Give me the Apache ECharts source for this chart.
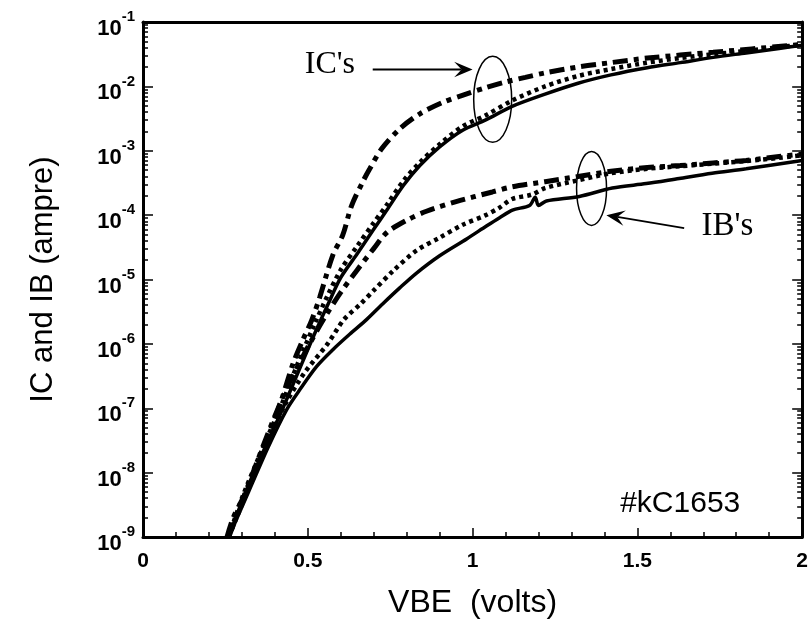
<!DOCTYPE html>
<html>
<head>
<meta charset="utf-8">
<title>IC and IB vs VBE</title>
<script src="https://cdn.jsdelivr.net/npm/echarts@6/dist/echarts.min.js"></script>
<style>
  html, body { margin: 0; padding: 0; background: #fff; }
  #chart { width: 811px; height: 624px; }
</style>
</head>
<body>
<div id="chart"></div>
<script>
// collector current curves  [VBE (V), IC (A)]
const icSolid = [[0.26,1e-9],[0.30,3.55e-9],[0.34,1.12e-8],[0.38,3.16e-8],[0.42,8.9e-8],[0.47,3.55e-7],[0.52,1.41e-6],[0.56,3.98e-6],[0.60,1.07e-5],[0.65,2.51e-5],[0.70,6.03e-5],[0.74,1.2e-4],[0.79,2.88e-4],[0.84,5.89e-4],[0.90,1.15e-3],[0.97,2.09e-3],[1.04,3.02e-3],[1.12,4.9e-3],[1.22,7.59e-3],[1.32,1.12e-2],[1.42,1.51e-2],[1.53,1.95e-2],[1.63,2.34e-2],[1.73,2.82e-2],[1.83,3.31e-2],[1.93,3.89e-2],[2.0,4.37e-2]];
const icDotted = [[0.26,1e-9],[0.30,3.98e-9],[0.34,1.26e-8],[0.38,3.8e-8],[0.42,1.12e-7],[0.47,5.01e-7],[0.52,2.0e-6],[0.56,5.62e-6],[0.60,1.41e-5],[0.65,3.31e-5],[0.70,7.59e-5],[0.74,1.45e-4],[0.79,3.39e-4],[0.84,6.61e-4],[0.90,1.26e-3],[0.97,2.4e-3],[1.04,3.55e-3],[1.12,6.03e-3],[1.22,1.0e-2],[1.32,1.45e-2],[1.42,1.86e-2],[1.53,2.34e-2],[1.63,2.75e-2],[1.73,3.16e-2],[1.83,3.55e-2],[1.93,4.07e-2],[2.0,4.47e-2]];
const icDashDot = [[0.255,1e-9],[0.273,1.95e-9],[0.303,3.98e-9],[0.333,8.13e-9],[0.364,2.34e-8],[0.391,5.25e-8],[0.421,1.38e-7],[0.455,4.9e-7],[0.485,1.15e-6],[0.512,2.34e-6],[0.536,5.25e-6],[0.576,2.4e-5],[0.606,4.9e-5],[0.633,1.41e-4],[0.667,3.31e-4],[0.688,5.25e-4],[0.724,1.07e-3],[0.779,2.19e-3],[0.839,3.72e-3],[0.909,5.62e-3],[0.98,7.59e-3],[1.04,9.55e-3],[1.10,1.17e-2],[1.16,1.38e-2],[1.22,1.62e-2],[1.32,2.0e-2],[1.42,2.34e-2],[1.53,2.75e-2],[1.73,3.39e-2],[2.0,4.47e-2]];

// base current curves  [VBE (V), IB (A)]
const ibSolid = [[0.26,1e-9],[0.32,5.01e-9],[0.38,2.51e-8],[0.436,9.55e-8],[0.476,1.95e-7],[0.527,4.47e-7],[0.576,8.13e-7],[0.627,1.41e-6],[0.679,2.4e-6],[0.727,4.17e-6],[0.779,7.41e-6],[0.83,1.26e-5],[0.90,2.34e-5],[0.982,4.27e-5],[1.042,6.76e-5],[1.082,9.12e-5],[1.121,1.2e-4],[1.173,1.41e-4],[1.19,1.9e-4],[1.20,1.41e-4],[1.224,1.66e-4],[1.324,1.95e-4],[1.424,2.63e-4],[1.527,3.09e-4],[1.627,3.72e-4],[1.727,4.47e-4],[1.83,5.25e-4],[2.0,7.08e-4]];
const ibDotted = [[0.26,1e-9],[0.32,5.62e-9],[0.38,3.16e-8],[0.43,1.12e-7],[0.49,3.55e-7],[0.56,1e-6],[0.61,2.4e-6],[0.66,4.17e-6],[0.70,6.76e-6],[0.76,1.38e-5],[0.83,2.82e-5],[0.90,4.47e-5],[0.97,7.08e-5],[1.04,1.0e-4],[1.08,1.29e-4],[1.12,1.78e-4],[1.18,2.09e-4],[1.22,2.63e-4],[1.32,3.47e-4],[1.42,4.47e-4],[1.53,5.25e-4],[1.63,5.75e-4],[1.73,6.31e-4],[1.83,6.92e-4],[1.93,7.76e-4],[2.0,8.51e-4]];
const ibDashDot = [[0.26,1e-9],[0.33,8.9e-9],[0.39,5.62e-8],[0.44,2.24e-7],[0.50,8.9e-7],[0.55,2.51e-6],[0.60,6.31e-6],[0.65,1.41e-5],[0.70,3.02e-5],[0.74,5.37e-5],[0.80,8.32e-5],[0.86,1.15e-4],[0.95,1.62e-4],[1.06,2.29e-4],[1.12,2.75e-4],[1.22,3.31e-4],[1.32,3.98e-4],[1.42,4.79e-4],[1.53,5.5e-4],[1.63,5.89e-4],[1.73,6.46e-4],[1.83,7.08e-4],[1.93,8.13e-4],[2.0,8.9e-4]];

// annotation anchors in data space
const icLabelAt = [0.567, 0.0219];
const icArrow = [[0.697, 0.0183], [1.0, 0.0183]];
const icEllipseAt = [1.061, 6.3e-3];
const ibEllipseAt = [1.361, 2.6e-4];
const ibArrow = [[1.642, 6.3e-5], [1.406, 1.0e-4]];
const ibLabelAt = [1.773, 6.8e-5];
const sampleLabelAt = [1.63, 3.3e-9];

// minor tick values for the log axes (2..9 of every decade)
const minorY = [];
for (let e = -9; e < -1; e++) {
  for (let k = 2; k <= 9; k++) minorY.push(k * Math.pow(10, e));
}

const chart = echarts.init(document.getElementById('chart'));

const dashDot = [15, 6, 5, 6];
const dotted = [4, 4];

function line(name, data, type, width) {
  return {
    name: name,
    type: 'line',
    data: data,
    showSymbol: false,
    smooth: 0.3,
    xAxisIndex: 0,
    yAxisIndex: 0,
    lineStyle: { color: '#000', width: width, type: type, cap: 'butt' },
    silent: true
  };
}

const logBase = {
  type: 'log',
  logBase: 10,
  min: 1e-9,
  max: 1e-1,
  splitLine: { show: false },
  axisLine: { show: false },
  axisTick: { show: false },
  axisLabel: { show: false }
};

chart.setOption({
  backgroundColor: '#fff',
  animation: false,
  grid: { left: 143, right: 8, top: 22, bottom: 82 },
  xAxis: [{
    type: 'value',
    min: 0,
    max: 2,
    interval: 0.5,
    position: 'bottom',
    name: 'VBE  (volts)',
    nameLocation: 'middle',
    nameGap: 50,
    nameTextStyle: { fontFamily: 'Liberation Sans', fontSize: 32, color: '#000' },
    axisLine: { lineStyle: { color: '#000', width: 3 } },
    axisTick: { inside: true, length: 9, lineStyle: { color: '#000', width: 1.5 } },
    minorTick: { show: true, splitNumber: 5, length: 5, lineStyle: { color: '#000', width: 1.5 } },
    axisLabel: {
      margin: 14,
      fontFamily: 'Liberation Sans',
      fontWeight: 'bold',
      fontSize: 21,
      color: '#000',
      formatter: v => (v === 0 || v === 1 || v === 2) ? String(v) : v.toFixed(1)
    },
    splitLine: { show: false }
  }, {
    type: 'value',
    min: 0,
    max: 2,
    position: 'top',
    axisLine: { lineStyle: { color: '#000', width: 3 } },
    axisTick: { show: false },
    axisLabel: { show: false },
    splitLine: { show: false }
  }],
  yAxis: [Object.assign({}, logBase, {
    position: 'left',
    interval: 1,
    name: 'IC and IB (ampre)',
    nameLocation: 'middle',
    nameGap: 84,
    nameRotate: 90,
    nameTextStyle: { fontFamily: 'Liberation Sans', fontSize: 31, color: '#000' },
    axisLine: { show: true, lineStyle: { color: '#000', width: 3 } },
    axisTick: { show: true, inside: true, length: 10, lineStyle: { color: '#000', width: 1.5 } },
    axisLabel: {
      show: true,
      margin: 8,
      formatter: function (v) {
        const e = Math.round(Math.log10(v));
        return '{b|10}{s|' + e + '}';
      },
      rich: {
        b: { fontFamily: 'Liberation Sans', fontWeight: 'bold', fontSize: 22, color: '#000', padding: [14, 0, 0, 0] },
        s: { fontFamily: 'Liberation Sans', fontWeight: 'bold', fontSize: 15, color: '#000', padding: [0, 0, 10, 0] }
      }
    }
  }), Object.assign({}, logBase, {
    position: 'left',
    axisTick: { show: true, inside: true, length: 5, customValues: minorY, lineStyle: { color: '#000', width: 1.5 } }
  }), Object.assign({}, logBase, {
    position: 'right',
    interval: 1,
    axisLine: { show: true, lineStyle: { color: '#000', width: 3 } },
    axisTick: { show: true, inside: true, length: 10, lineStyle: { color: '#000', width: 1.5 } }
  }), Object.assign({}, logBase, {
    position: 'right',
    axisTick: { show: true, inside: true, length: 5, customValues: minorY, lineStyle: { color: '#000', width: 1.5 } }
  })],
  series: [
    line('IC solid', icSolid, 'solid', 3.5),
    line('IC dotted', icDotted, dotted, 4.5),
    line('IC dash-dot', icDashDot, dashDot, 5),
    line('IB solid', ibSolid, 'solid', 3.5),
    line('IB dotted', ibDotted, dotted, 4.5),
    line('IB dash-dot', ibDashDot, dashDot, 5)
  ]
});

// annotations placed through the chart's own coordinate system
function px(p) {
  return chart.convertToPixel({ xAxisIndex: 0, yAxisIndex: 0 }, p);
}

function arrow(from, to) {
  const a = px(from), b = px(to);
  const ang = Math.atan2(b[1] - a[1], b[0] - a[0]);
  const L = 20, W = 0.4;
  const h1 = [b[0] - L * Math.cos(ang - W), b[1] - L * Math.sin(ang - W)];
  const h2 = [b[0] - L * Math.cos(ang + W), b[1] - L * Math.sin(ang + W)];
  const m = [b[0] - 0.55 * L * Math.cos(ang), b[1] - 0.55 * L * Math.sin(ang)];
  return [{
    type: 'line',
    shape: { x1: a[0], y1: a[1], x2: m[0], y2: m[1] },
    style: { stroke: '#000', lineWidth: 1.8 }
  }, {
    type: 'polygon',
    shape: { points: [b, h1, m, h2] },
    style: { fill: '#000' }
  }];
}

const icE = px(icEllipseAt), ibE = px(ibEllipseAt);
const icL = px(icLabelAt), ibL = px(ibLabelAt), sL = px(sampleLabelAt);

chart.setOption({
  graphic: [
    { type: 'ellipse', shape: { cx: icE[0], cy: icE[1], rx: 19, ry: 43 }, style: { fill: 'none', stroke: '#000', lineWidth: 1.5 } },
    { type: 'ellipse', shape: { cx: ibE[0], cy: ibE[1], rx: 15, ry: 37 }, style: { fill: 'none', stroke: '#000', lineWidth: 1.5 } },
    { type: 'text', x: icL[0], y: icL[1], style: { text: "IC's", fontFamily: 'Liberation Serif', fontSize: 32, fill: '#000', align: 'center', verticalAlign: 'middle' } },
    { type: 'text', x: ibL[0], y: ibL[1], style: { text: "IB's", fontFamily: 'Liberation Serif', fontSize: 33, fill: '#000', align: 'center', verticalAlign: 'middle' } },
    { type: 'text', x: sL[0], y: sL[1], style: { text: '#kC1653', fontFamily: 'Liberation Sans', fontSize: 30, fill: '#000', align: 'center', verticalAlign: 'middle' } }
  ].concat(arrow(icArrow[0], icArrow[1]), arrow(ibArrow[0], ibArrow[1]))
});
</script>
</body>
</html>
